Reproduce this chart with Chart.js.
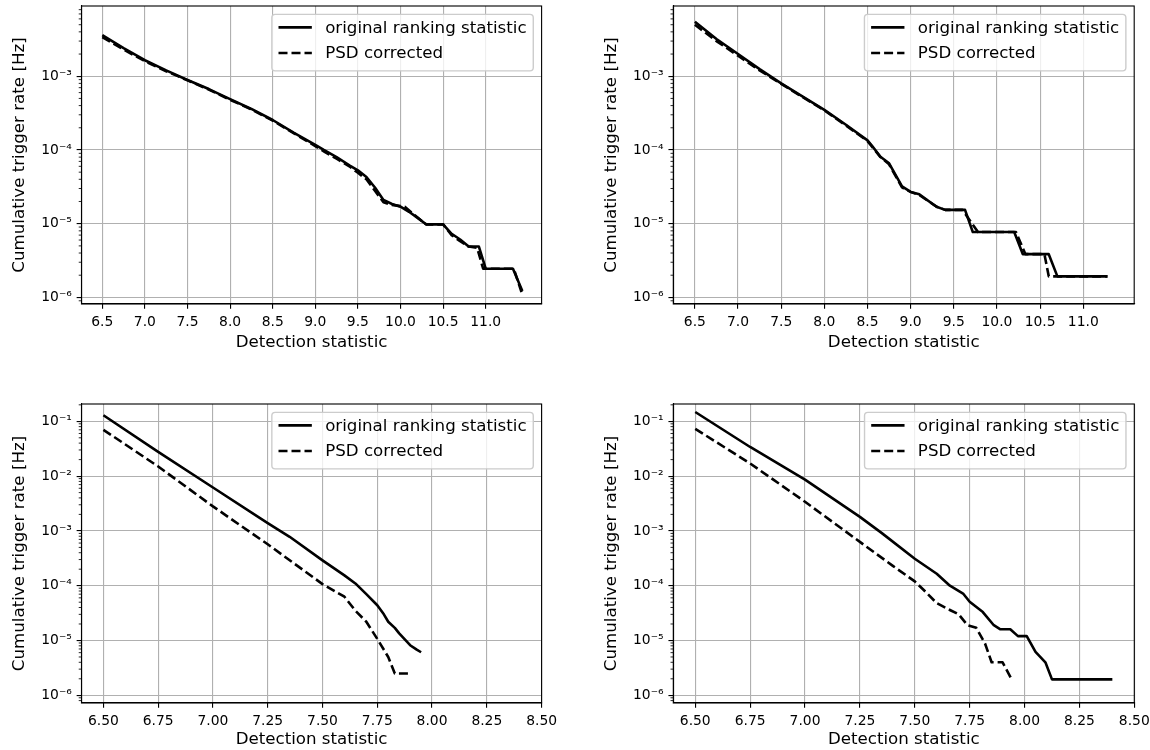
<!DOCTYPE html>
<html>
<head>
<meta charset="utf-8">
<script src="https://cdn.jsdelivr.net/npm/chart.js@4/dist/chart.umd.min.js"></script>
<style>
  html, body { margin: 0; padding: 0; background: #fff; }
  #wrap { position: relative; width: 1150px; height: 750px; overflow: hidden; }
  canvas { position: absolute; }
</style>
</head>
<body>
<div id="wrap">
  <canvas id="tl" width="575" height="375" style="left:0px;top:0px"></canvas>
  <canvas id="tr" width="575" height="375" style="left:575px;top:0px"></canvas>
  <canvas id="bl" width="575" height="375" style="left:0px;top:375px"></canvas>
  <canvas id="br" width="575" height="375" style="left:575px;top:375px"></canvas>
</div>
<script>
// --- DATA ---
const seriesNames = ['original ranking statistic', 'PSD corrected'];

// top left
const tlOrigX = [6.5, 6.75, 7.0, 7.25, 7.5, 7.75, 8.0, 8.25, 8.5, 8.75, 9.0, 9.1, 9.25, 9.4, 9.5, 9.6, 9.7, 9.8, 9.9, 10.0, 10.1, 10.2, 10.3, 10.5, 10.6, 10.7, 10.8, 10.92, 11.0, 11.32, 11.43];
const tlOrigY = [3.6e-3, 2.4e-3, 1.65e-3, 1.2e-3, 8.9e-4, 6.7e-4, 4.9e-4, 3.6e-4, 2.55e-4, 1.7e-4, 1.17e-4, 1.0e-4, 8.0e-5, 6.2e-5, 5.3e-5, 4.3e-5, 3.1e-5, 2.1e-5, 1.85e-5, 1.7e-5, 1.45e-5, 1.2e-5, 9.8e-6, 9.8e-6, 7.3e-6, 6.1e-6, 4.9e-6, 4.9e-6, 2.45e-6, 2.45e-6, 1.22e-6];
const tlPsdX = [6.5, 6.75, 7.0, 7.25, 7.5, 7.75, 8.0, 8.25, 8.5, 8.75, 9.0, 9.1, 9.25, 9.4, 9.5, 9.6, 9.7, 9.8, 9.9, 10.05, 10.15, 10.3, 10.5, 10.6, 10.7, 10.8, 10.9, 10.97, 11.33, 11.42];
const tlPsdY = [3.4e-3, 2.3e-3, 1.6e-3, 1.17e-3, 8.8e-4, 6.6e-4, 4.8e-4, 3.55e-4, 2.5e-4, 1.68e-4, 1.13e-4, 9.6e-5, 7.6e-5, 6.0e-5, 4.9e-5, 4.0e-5, 2.8e-5, 1.95e-5, 1.8e-5, 1.7e-5, 1.35e-5, 9.8e-6, 9.8e-6, 7.0e-6, 5.8e-6, 4.9e-6, 4.7e-6, 2.45e-6, 2.45e-6, 1.18e-6];

// top right
const trOrigX = [6.5, 6.75, 7.0, 7.25, 7.5, 7.75, 8.0, 8.25, 8.5, 8.55, 8.65, 8.75, 8.9, 9.0, 9.1, 9.3, 9.4, 9.63, 9.72, 10.2, 10.3, 10.6, 10.7, 11.28];
const trOrigY = [5.5e-3, 3.2e-3, 2.0e-3, 1.25e-3, 8.0e-4, 5.3e-4, 3.5e-4, 2.2e-4, 1.35e-4, 1.15e-4, 8.1e-5, 6.6e-5, 3.2e-5, 2.7e-5, 2.5e-5, 1.7e-5, 1.54e-5, 1.54e-5, 7.7e-6, 7.7e-6, 3.86e-6, 3.86e-6, 1.93e-6, 1.93e-6];
const trPsdX = [6.5, 6.75, 7.0, 7.25, 7.5, 7.75, 8.0, 8.25, 8.5, 8.55, 8.65, 8.75, 8.9, 9.0, 9.1, 9.3, 9.4, 9.6, 9.78, 10.22, 10.33, 10.55, 10.6, 11.28];
const trPsdY = [5.0e-3, 3.0e-3, 1.9e-3, 1.2e-3, 7.9e-4, 5.2e-4, 3.45e-4, 2.15e-4, 1.32e-4, 1.12e-4, 8.0e-5, 6.4e-5, 3.1e-5, 2.7e-5, 2.45e-5, 1.7e-5, 1.54e-5, 1.54e-5, 7.7e-6, 7.7e-6, 3.86e-6, 3.86e-6, 1.93e-6, 1.93e-6];

// bottom left
const blOrigX = [6.5, 6.75, 7.0, 7.25, 7.35, 7.5, 7.6, 7.65, 7.7, 7.75, 7.78, 7.8, 7.83, 7.85, 7.9, 7.93, 7.95];
const blOrigY = [0.129, 2.76e-2, 6.2e-3, 1.39e-3, 7.8e-4, 2.9e-4, 1.54e-4, 1.1e-4, 7.0e-5, 4.4e-5, 3.0e-5, 2.2e-5, 1.7e-5, 1.35e-5, 8.2e-6, 6.8e-6, 6.1e-6];
const blPsdX = [6.5, 6.75, 7.0, 7.25, 7.5, 7.6, 7.65, 7.7, 7.75, 7.8, 7.83, 7.89];
const blPsdY = [7.0e-2, 1.5e-2, 2.8e-3, 5.7e-4, 1.07e-4, 6.3e-5, 3.5e-5, 2.2e-5, 1.07e-5, 5.0e-6, 2.5e-6, 2.5e-6];

// bottom right
const brOrigX = [6.5, 6.75, 7.0, 7.25, 7.35, 7.5, 7.6, 7.66, 7.72, 7.75, 7.81, 7.86, 7.89, 7.935, 7.97, 8.01, 8.05, 8.095, 8.125, 8.40];
const brOrigY = [0.148, 3.4e-2, 8.6e-3, 1.8e-3, 9.1e-4, 3.1e-4, 1.65e-4, 1.0e-4, 7.2e-5, 5.1e-5, 3.3e-5, 1.9e-5, 1.6e-5, 1.6e-5, 1.2e-5, 1.2e-5, 6.2e-6, 4.0e-6, 1.95e-6, 1.95e-6];
const brPsdX = [6.5, 6.75, 7.0, 7.25, 7.4, 7.5, 7.55, 7.6, 7.66, 7.7, 7.74, 7.78, 7.82, 7.85, 7.9, 7.94];
const brPsdY = [7.3e-2, 1.7e-2, 3.4e-3, 6.3e-4, 2.3e-4, 1.2e-4, 7.7e-5, 4.8e-5, 3.6e-5, 3.0e-5, 1.9e-5, 1.7e-5, 8.8e-6, 4.0e-6, 4.0e-6, 2.0e-6];

// tick labels
const xTickLabelsTop = ['6.5', '7.0', '7.5', '8.0', '8.5', '9.0', '9.5', '10.0', '10.5', '11.0'];
const xTickLabelsBottom = ['6.50', '6.75', '7.00', '7.25', '7.50', '7.75', '8.00', '8.25', '8.50'];
const yTicksTop = [1e-6, 1e-5, 1e-4, 1e-3];
const yTickLabelsTop = ['10\u207B\u2076', '10\u207B\u2075', '10\u207B\u2074', '10\u207B\u00B3'];
const yTicksBottom = [1e-6, 1e-5, 1e-4, 1e-3, 1e-2, 1e-1];
const yTickLabelsBottom = ['10\u207B\u2076', '10\u207B\u2075', '10\u207B\u2074', '10\u207B\u00B3', '10\u207B\u00B2', '10\u207B\u00B9'];

// --- STYLE ---
const PT = 100 / 72; // matplotlib points at 100 dpi
const FONT = "'DejaVu Sans', 'Liberation Sans', sans-serif";
const LW = 2.6; // curve width in px

function roundRectPath(ctx, x, y, w, h, r) {
    ctx.beginPath();
    ctx.moveTo(x + r, y);
    ctx.lineTo(x + w - r, y);
    ctx.arcTo(x + w, y, x + w, y + r, r);
    ctx.lineTo(x + w, y + h - r);
    ctx.arcTo(x + w, y + h, x + w - r, y + h, r);
    ctx.lineTo(x + r, y + h);
    ctx.arcTo(x, y + h, x, y + h - r, r);
    ctx.lineTo(x, y + r);
    ctx.arcTo(x, y, x + r, y, r);
    ctx.closePath();
}

// spines, minor log ticks and a matplotlib-like legend box
const mplFrame = {
    id: 'mplFrame',
    afterDatasetsDraw(chart) {
        const ctx = chart.ctx;
        const a = chart.chartArea;
        const ys = chart.scales.y;
        ctx.save();

        ctx.strokeStyle = '#000';
        ctx.lineWidth = 0.6 * PT;
        ctx.beginPath();
        const lo = Math.floor(Math.log10(ys.min));
        const hi = Math.ceil(Math.log10(ys.max));
        for (let n = lo; n <= hi; n++) {
            for (let k = 2; k <= 9; k++) {
                const v = k * Math.pow(10, n);
                if (v < ys.min || v > ys.max) continue;
                const py = ys.getPixelForValue(v);
                ctx.moveTo(a.left - 2 * PT, py);
                ctx.lineTo(a.left, py);
            }
        }
        ctx.stroke();

        ctx.lineWidth = 0.8 * PT;
        ctx.strokeRect(a.left, a.top, a.right - a.left, a.bottom - a.top);

        const fs = 12 * PT;
        ctx.font = fs + 'px ' + FONT;
        const sets = chart.data.datasets;
        const tw = Math.max(...sets.map((d) => ctx.measureText(d.label).width));
        const pad = 0.4 * fs, hl = 2 * fs, htp = 0.8 * fs;
        const w = pad + hl + htp + tw + pad;
        const h = 56.5;
        const right = a.right - 0.5 * fs;
        const top = a.top + 0.5 * fs;
        const left = right - w;
        roundRectPath(ctx, left, top, w, h, 0.2 * fs);
        ctx.fillStyle = 'rgba(255,255,255,0.8)';
        ctx.fill();
        ctx.strokeStyle = '#cccccc';
        ctx.lineWidth = PT;
        ctx.stroke();

        sets.forEach((d, i) => {
            const ry = top + 13 + i * 25.7;
            ctx.beginPath();
            ctx.setLineDash(d.borderDash || []);
            ctx.strokeStyle = '#000';
            ctx.lineWidth = d.borderWidth;
            ctx.moveTo(left + pad, ry);
            ctx.lineTo(left + pad + hl, ry);
            ctx.stroke();
            ctx.setLineDash([]);
            ctx.fillStyle = '#000';
            ctx.textBaseline = 'middle';
            ctx.textAlign = 'left';
            ctx.fillText(d.label, left + pad + hl + htp, ry + 1);
        });
        ctx.restore();
    },
};

function toPoints(xs, ys) {
    return xs.map((x, i) => ({ x: x, y: ys[i] }));
}

function makeChart(id, p) {
    const xTicks = p.xLabels.map(Number);
    return new Chart(document.getElementById(id), {
        type: 'line',
        data: {
            datasets: [
                {
                    label: seriesNames[0],
                    data: toPoints(p.origX, p.origY),
                    borderColor: '#000',
                    borderWidth: LW,
                    borderCapStyle: 'butt',
                    borderJoinStyle: 'round',
                    pointRadius: 0,
                    tension: 0,
                    fill: false,
                },
                {
                    label: seriesNames[1],
                    data: toPoints(p.psdX, p.psdY),
                    borderColor: '#000',
                    borderWidth: LW,
                    borderDash: [9, 4],
                    borderCapStyle: 'butt',
                    borderJoinStyle: 'round',
                    pointRadius: 0,
                    tension: 0,
                    fill: false,
                },
            ],
        },
        options: {
            responsive: false,
            animation: false,
            devicePixelRatio: 1,
            events: [],
            layout: { padding: { left: 0, top: p.top, right: p.right, bottom: 0 } },
            plugins: { legend: { display: false }, tooltip: { enabled: false } },
            scales: {
                x: {
                    type: 'linear',
                    min: p.xMin,
                    max: p.xMax,
                    bounds: 'data',
                    afterBuildTicks: (s) => {
                        s.ticks = xTicks.map((v) => ({ value: v }));
                    },
                    afterFit: (s) => {
                        s.height = p.xHeight;
                        s.paddingLeft = 0;
                        s.paddingRight = 0;
                    },
                    ticks: {
                        callback: (v, i) => p.xLabels[i],
                        font: { family: FONT, size: 10 * PT },
                        color: '#000',
                        padding: 3.5 * PT,
                        maxRotation: 0,
                        autoSkip: false,
                    },
                    grid: {
                        color: '#b0b0b0',
                        lineWidth: 0.8 * PT,
                        tickColor: '#000',
                        tickWidth: 0.8 * PT,
                        tickLength: 3.5 * PT,
                    },
                    border: { color: '#000', width: 0.8 * PT },
                    title: {
                        display: true,
                        text: 'Detection statistic',
                        font: { family: FONT, size: 12 * PT },
                        color: '#000',
                        padding: { top: 0, bottom: p.xTitlePad },
                    },
                },
                y: {
                    type: 'logarithmic',
                    min: p.yMin,
                    max: p.yMax,
                    bounds: 'data',
                    afterBuildTicks: (s) => {
                        s.ticks = p.yTicks.map((v) => ({ value: v }));
                    },
                    afterFit: (s) => {
                        s.width = p.yWidth;
                        s.paddingTop = 0;
                        s.paddingBottom = 0;
                    },
                    ticks: {
                        callback: (v, i) => p.yLabels[i],
                        font: { family: FONT, size: 10 * PT },
                        color: '#000',
                        padding: 3.5 * PT,
                        autoSkip: false,
                        major: { enabled: false },
                    },
                    grid: {
                        color: '#b0b0b0',
                        lineWidth: 0.8 * PT,
                        tickColor: '#000',
                        tickWidth: 0.8 * PT,
                        tickLength: 3.5 * PT,
                    },
                    border: { color: '#000', width: 0.8 * PT },
                    title: {
                        display: true,
                        text: 'Cumulative trigger rate [Hz]',
                        font: { family: FONT, size: 12 * PT },
                        color: '#000',
                        padding: { top: p.yTitlePad, bottom: 0 },
                    },
                },
            },
        },
        plugins: [mplFrame],
    });
}

makeChart('tl', {
    origX: tlOrigX, origY: tlOrigY, psdX: tlPsdX, psdY: tlPsdY,
    xMin: 6.256, xMax: 11.656, xLabels: xTickLabelsTop,
    yMin: 8.14e-7, yMax: 8.97e-3, yTicks: yTicksTop, yLabels: yTickLabelsTop,
    top: 6, right: 33.4, yWidth: 81.5, xHeight: 71, yTitlePad: 10, xTitlePad: 22.5,
});
makeChart('tr', {
    origX: trOrigX, origY: trOrigY, psdX: trPsdX, psdY: trPsdY,
    xMin: 6.25, xMax: 11.59, xLabels: xTickLabelsTop,
    yMin: 8.14e-7, yMax: 8.97e-3, yTicks: yTicksTop, yLabels: yTickLabelsTop,
    top: 6, right: 15.8, yWidth: 98.3, xHeight: 71, yTitlePad: 26.8, xTitlePad: 22.5,
});
makeChart('bl', {
    origX: blOrigX, origY: blOrigY, psdX: blPsdX, psdY: blPsdY,
    xMin: 6.4, xMax: 8.5, xLabels: xTickLabelsBottom,
    yMin: 7.23e-7, yMax: 0.207, yTicks: yTicksBottom, yLabels: yTickLabelsBottom,
    top: 29, right: 33.4, yWidth: 81.5, xHeight: 47, yTitlePad: 10, xTitlePad: 0.7,
});
makeChart('br', {
    origX: brOrigX, origY: brOrigY, psdX: brPsdX, psdY: brPsdY,
    xMin: 6.4, xMax: 8.5, xLabels: xTickLabelsBottom,
    yMin: 7.23e-7, yMax: 0.207, yTicks: yTicksBottom, yLabels: yTickLabelsBottom,
    top: 29, right: 15.7, yWidth: 98.3, xHeight: 47, yTitlePad: 26.8, xTitlePad: 0.7,
});
</script>
</body>
</html>
